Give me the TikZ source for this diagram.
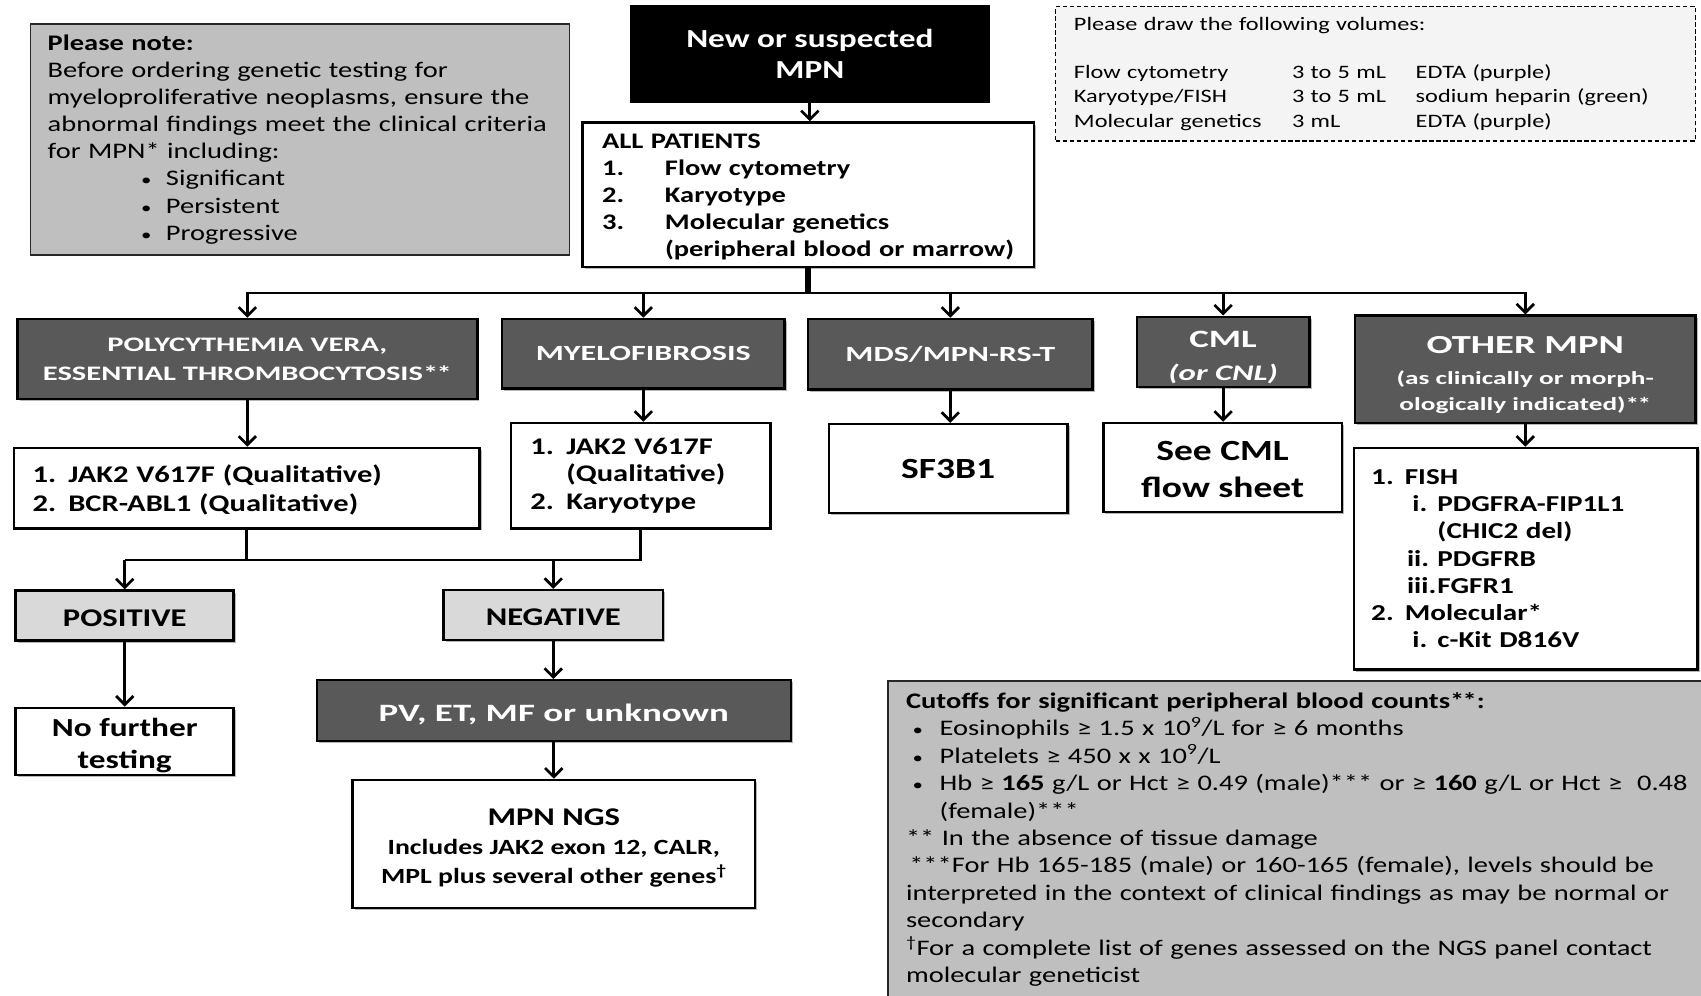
\documentclass[tikz,border=0pt]{standalone}
\usepackage{fontspec}
\setmainfont{Carlito}[FakeStretch=1.28]
\newfontfamily\widefont{Carlito}[FakeStretch=1.48]
\usetikzlibrary{arrows.meta,shadows}
\newcommand\setfs[2]{\fontsize{#1pt}{#2pt}\selectfont}
\newcommand\smallbullet{{\fontsize{15pt}{15pt}\selectfont •}}

\definecolor{darkfill}{HTML}{595959}
\definecolor{notefill}{HTML}{BFBFBF}
\definecolor{lightfill}{HTML}{D9D9D9}
\definecolor{volfill}{HTML}{F4F4F4}

\tikzset{
  wh/.style 2 args={minimum width=#1pt, minimum height=#2pt},
  softshadow/.style={drop shadow={shadow xshift=2pt, shadow yshift=-2pt, opacity=0.28, fill=black}},
  whitebox/.style={draw=black, line width=2.4pt, fill=white, inner sep=0pt, align=center, softshadow},
  darkbox/.style={draw=black, line width=2.2pt, fill=darkfill, text=white, inner sep=0pt, align=center, softshadow},
  greybox/.style={draw=black, line width=2.4pt, fill=lightfill, inner sep=0pt, align=center, softshadow},
  notebox/.style={draw=black!85, line width=1.3pt, fill=notefill, inner ysep=0pt},
  conn/.style={line width=2.5pt},
  arr/.style={conn, -{Straight Barb[length=8pt,width=16pt]}},
}

\begin{document}
\begin{tikzpicture}[x=1pt,y=-1pt]
\useasboundingbox (0,0) rectangle (1568,918);
\fill[white] (0,0) rectangle (1568,918);

% ---------- information panels ----------
\node[notebox, wh={497}{213}, text width=465pt, inner xsep=16pt, align=left,
      font=\setfs{20.5}{25}] (note) at (276.5,128.5)
  {\textbf{Please note:}\\
   Before ordering genetic testing for\\
   myeloproliferative neoplasms, ensure the\\
   abnormal findings meet the clinical criteria\\
   for MPN* including:\\
   \hspace*{86pt}\makebox[23pt][l]{\smallbullet}Significant\\
   \hspace*{86pt}\makebox[23pt][l]{\smallbullet}Persistent\\
   \hspace*{86pt}\makebox[23pt][l]{\smallbullet}Progressive};

\node[draw=black, line width=1.2pt, dash pattern=on 4pt off 2.5pt, fill=volfill,
      wh={590}{124}, text width=556pt, inner xsep=17pt, inner ysep=0pt, align=left,
      font=\setfs{17.5}{22.3}] (vol) at (1268,68)
  {Please draw the following volumes:\\[22.3pt]
   \makebox[201pt][l]{Flow cytometry}\makebox[114pt][l]{3 to 5 mL}EDTA (purple)\\
   \makebox[201pt][l]{Karyotype/FISH}\makebox[114pt][l]{3 to 5 mL}sodium heparin (green)\\
   \makebox[201pt][l]{Molecular genetics}\makebox[114pt][l]{3 mL}EDTA (purple)};

% ---------- entry ----------
\node[draw=black, line width=1pt, fill=black, text=white, inner sep=0pt, align=center,
      wh={331}{89}, font=\bfseries\setfs{24}{29}] (start) at (746.5,49.5)
  {New or suspected\\MPN};

\node[whitebox, wh={416}{133}, text width=380pt, inner xsep=18pt, align=left,
      font=\bfseries\setfs{20.5}{25}] (allp) at (745,179.5)
  {\rule{0pt}{18pt}ALL PATIENTS\\
   \makebox[58pt][l]{1.}Flow cytometry\\
   \makebox[58pt][l]{2.}Karyotype\\
   \makebox[58pt][l]{3.}Molecular genetics\\
   \mbox{\hspace*{58pt}(peripheral blood or marrow)}};

% ---------- diagnostic categories ----------
\node[darkbox, wh={424}{74}, font=\widefont\bfseries\setfs{19}{27}] (pv) at (228,331)
  {POLYCYTHEMIA VERA,\\ESSENTIAL THROMBOCYTOSIS*\kern-1.5pt*};
\node[darkbox, wh={260}{64}, font=\widefont\bfseries\setfs{20}{24}] (mf) at (593,326)
  {MYELOFIBROSIS};
\node[darkbox, wh={262}{65}, font=\widefont\bfseries\setfs{20}{24}] (mds) at (876,326.5)
  {MDS/MPN-RS-T};
\node[darkbox, wh={159}{65}, font=\widefont\bfseries\setfs{20.5}{30}] (cml) at (1127.5,324.5)
  {{\setfs{23}{30}\rule{0pt}{25pt}CML}\\{\itshape (or CNL)}};
\node[darkbox, wh={314}{99}, font=\widefont\bfseries\setfs{17}{24.5}] (oth) at (1406,340.5)
  {{\setfs{24}{24.5}\rule{0pt}{26pt}OTHER MPN}\\[4pt](as clinically or morph-\\ologically indicated)*\kern-1.5pt*};

% ---------- first-line tests ----------
\node[whitebox, wh={429}{74}, text width=395pt, inner xsep=17pt, align=left,
      font=\bfseries\setfs{22}{27}] (pvl) at (227.5,450)
  {\rule{0pt}{19pt}\makebox[33pt][l]{1.}JAK2 V617F (Qualitative)\\
   \makebox[33pt][l]{2.}BCR-ABL1 (Qualitative)};
\node[whitebox, wh={239}{97}, text width=203pt, inner xsep=18pt, align=left,
      font=\bfseries\setfs{22}{25.5}] (mfl) at (590.5,438.5)
  {\makebox[33pt][l]{1.}JAK2 V617F\\
   \hspace*{33pt}(Qualitative)\\
   \makebox[33pt][l]{2.}Karyotype};
\node[whitebox, wh={220}{82}, font=\bfseries\setfs{27}{34}] (sf) at (874,432) {SF3B1};
\node[whitebox, wh={220}{82}, font=\bfseries\setfs{27}{34}] (scml) at (1127,431)
  {\rule{0pt}{22pt}See CML\\flow sheet};
\node[whitebox, wh={317}{204}, text width=285pt, inner xsep=16pt, align=left,
      font=\bfseries\setfs{21}{25}] (othl) at (1406.5,515)
  {\makebox[31pt][l]{1.}FISH\\
   \hspace*{38pt}\makebox[23pt][l]{i.}PDGFRA-FIP1L1\\
   \hspace*{61pt}(CHIC2 del)\\
   \hspace*{33pt}\makebox[28pt][l]{ii.}PDGFRB\\
   \hspace*{33pt}\makebox[28pt][l]{iii.}FGFR1\\
   \makebox[31pt][l]{2.}Molecular*\\
   \hspace*{38pt}\makebox[23pt][l]{i.}c-Kit D816V};

% ---------- results ----------
\node[greybox, wh={201}{46}, font=\bfseries\setfs{23.5}{28}] (pos) at (115,567.5)
  {\rule{0pt}{20pt}POSITIVE};
\node[greybox, wh={202}{46}, font=\bfseries\setfs{23.5}{28}] (neg) at (510,567)
  {\rule{0pt}{20pt}NEGATIVE};
\node[whitebox, wh={201}{62}, font=\bfseries\setfs{24}{29}] (nft) at (115,683.5)
  {\rule{0pt}{24pt}No further\\testing};
\node[darkbox, wh={437}{56}, font=\widefont\bfseries\setfs{23}{28}] (pvet) at (510.5,655)
  {\rule{0pt}{23pt}PV, ET, MF or unknown};
\node[whitebox, wh={371}{118}, font=\bfseries\setfs{20}{27}] (ngs) at (510.5,778)
  {{\setfs{23.5}{27}\rule{0pt}{23pt}MPN NGS}\\
   Includes JAK2 exon 12, CALR,\\
   MPL plus several other genes\textsuperscript{†}};

% ---------- cut-off notes ----------
\node[notebox, wh={780}{320}, anchor=north west] (cutbox) at (818,627) {};
\node[anchor=north west, inner sep=0pt, align=left, text width=740pt,
      font=\setfs{20.5}{25.3}] (cuttext) at ([shift={(17,11)}]cutbox.north west)
  {\textbf{Cutoffs for significant peripheral blood counts*\kern-1.5pt*:}\\
   \hspace*{6pt}\makebox[25pt][l]{\smallbullet}Eosinophils ≥ 1.5 x 10\textsuperscript{9}/L for ≥ 6 months\\
   \hspace*{6pt}\makebox[25pt][l]{\smallbullet}Platelets ≥ 450 x x 10\textsuperscript{9}/L\\
   \hspace*{6pt}\makebox[25pt][l]{\smallbullet}Hb ≥ \textbf{165} g/L or Hct ≥ 0.49 (male)*** or ≥ \textbf{160} g/L or Hct ≥\ \ 0.48\\
   \hspace*{31pt}(female)***\\
   {}** In the absence of tissue damage\\
   \hspace*{3pt}***For Hb 165-185 (male) or 160-165 (female), levels should be\\
   interpreted in the context of clinical findings as may be normal or\\
   secondary\\
   \textsuperscript{†}For a complete list of genes assessed on the NGS panel contact\\
   molecular geneticist};

% ---------- connectors ----------
\draw[arr] (start.south) -- (start.south |- allp.north);
\path (allp.south) ++(0,23) coordinate (bus);
\draw[line width=5pt] (allp.south) -- (bus);
\draw[arr] (bus) -| (pv.north);
\draw[arr] (bus) -| (mf.north);
\draw[arr] (bus) -| (mds.north);
\draw[arr] (bus) -| (cml.north);
\draw[arr] (bus) -| (oth.north);

\draw[arr] (pv.south) -- (pv.south |- pvl.north);
\draw[arr] (mf.south) -- (mf.south |- mfl.north);
\draw[arr] (mds.south) -- (mds.south |- sf.north);
\draw[arr] (cml.south) -- (cml.south |- scml.north);
\draw[arr] (oth.south) -- (oth.south |- othl.north);

\path (pvl.south) ++(0,28) coordinate (join);
\draw[conn] (pvl.south) -- (join);
\draw[conn] (mfl.south) -- (mfl.south |- join) -- (pos.north |- join);
\draw[arr] (pos.north |- join) -- (pos.north);
\draw[arr] (neg.north |- join) -- (neg.north);
\draw[arr] (pos.south) -- (pos.south |- nft.north);
\draw[arr] (neg.south) -- (neg.south |- pvet.north);
\draw[arr] (pvet.south) -- (pvet.south |- ngs.north);
\end{tikzpicture}
\end{document}
